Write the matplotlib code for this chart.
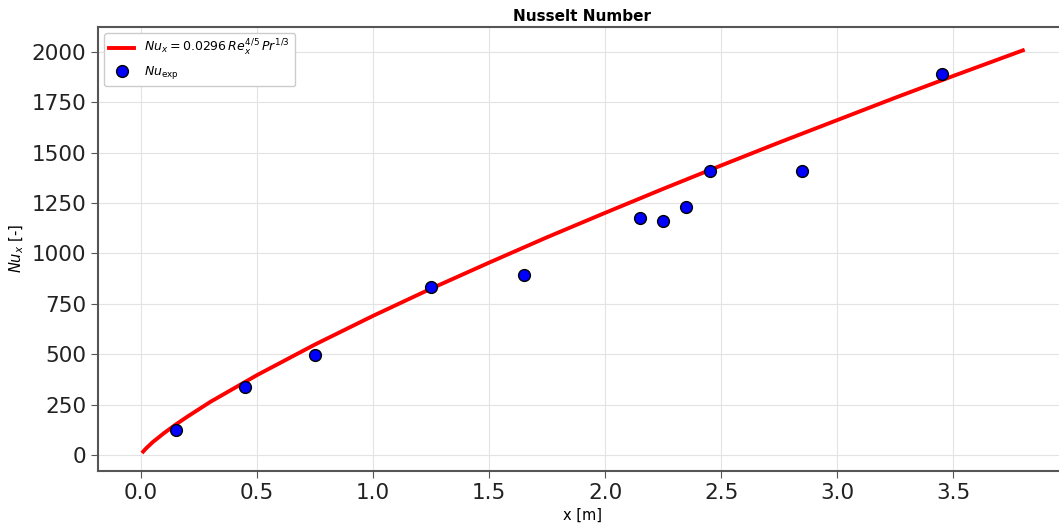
import numpy as np
import matplotlib
matplotlib.use("Agg")
import matplotlib.pyplot as plt

# correlation curve, values
x_corr = [0.01, 0.02, 0.05, 0.1, 0.15, 0.2, 0.3, 0.5, 0.75, 1.0, 1.25, 1.5,
          1.75, 2.0, 2.25, 2.5, 2.75, 3.0, 3.25, 3.5, 3.8]
nu_corr = [17, 30, 63, 109, 151, 190, 264, 396, 548, 690, 825, 954,
           1080, 1201, 1320, 1436, 1550, 1661, 1772, 1880, 2007]

# experimental points
x_exp = [0.15, 0.45, 0.75, 1.25, 1.65, 2.15, 2.25, 2.35, 2.45, 2.85, 3.45]
nu_exp = [124, 337, 496, 833, 893, 1176, 1161, 1230, 1409, 1409, 1890]


def set_style():
    rc = {
        "axes.edgecolor": "#555555",
        "axes.linewidth": 1.5,
        "xtick.color": "#555555",
        "ytick.color": "#555555",
        "xtick.labelcolor": "#222222",
        "ytick.labelcolor": "#222222",
        "xtick.labelsize": 15.5,
        "ytick.labelsize": 15.5,
        "xtick.major.size": 5,
        "ytick.major.size": 5,
        "axes.titleweight": "bold",
    }
    plt.rcParams.update(rc)


set_style()

fig = plt.figure(figsize=(10.59, 5.25), dpi=100)
ax = fig.add_axes([0.0925, 0.103, 0.915, 0.846])

ax.plot(x_corr, nu_corr, color="red", lw=2.8,
        label=r"$Nu_x = 0.0296\,Re_x^{4/5}\,Pr^{1/3}$", zorder=2)
ax.plot(x_exp, nu_exp, "o", color="blue", mec="black", mew=1.0, ms=8.5,
        label=r"$Nu_{\mathrm{exp}}$", zorder=3)

ax.grid(True, color="#e3e3e3", lw=0.8)
ax.set_axisbelow(True)

ax.set_xlim(-0.185, 3.99)
ax.set_ylim(-79, 2124)
ax.set_xticks([0.0, 0.5, 1.0, 1.5, 2.0, 2.5, 3.0, 3.5])
ax.set_yticks([0, 250, 500, 750, 1000, 1250, 1500, 1750, 2000])

ax.set_title("Nusselt Number", fontsize=11, fontweight="bold", pad=4)
ax.set_xlabel("x [m]", fontsize=10.5)
ax.set_ylabel(r"$Nu_x$ [-]", fontsize=10.5)

ax.legend(loc="upper left", fontsize=9, framealpha=1.0)

fig.savefig("out.png", dpi=100)
